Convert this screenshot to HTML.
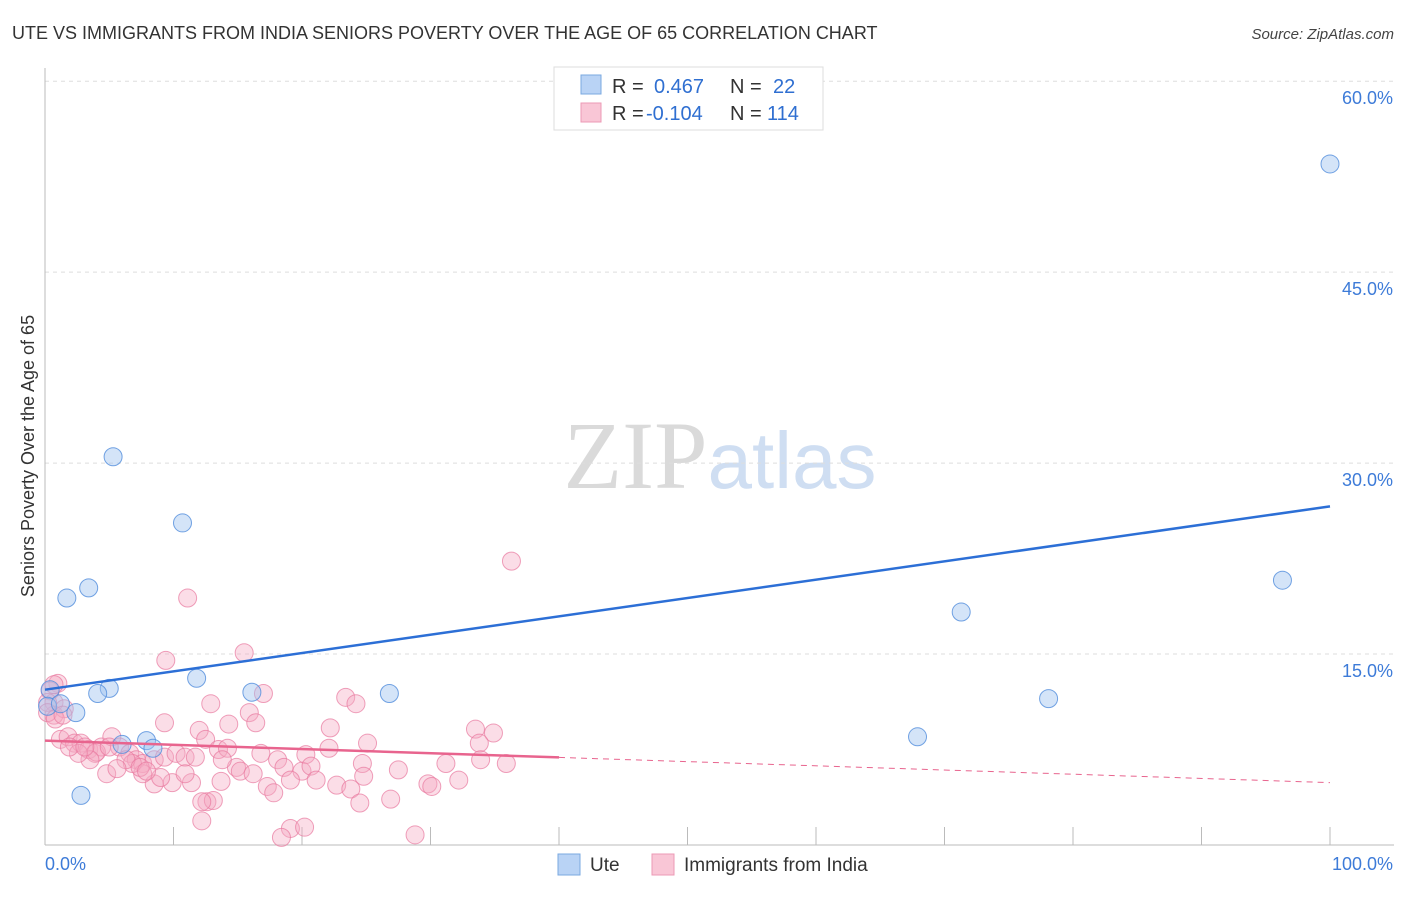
<!DOCTYPE html>
<html><head><meta charset="utf-8">
<style>
body{margin:0;background:#fff;font-family:"Liberation Sans",sans-serif;}
svg text{font-family:"Liberation Sans",sans-serif;}
</style></head>
<body>
<svg id="chart" width="1406" height="892" xmlns="http://www.w3.org/2000/svg">
<text x="12" y="39" font-size="18" fill="#333">UTE VS IMMIGRANTS FROM INDIA SENIORS POVERTY OVER THE AGE OF 65 CORRELATION CHART</text>
<text x="1394" y="39" font-size="15" fill="#444" text-anchor="end" font-style="italic">Source: ZipAtlas.com</text>
<text x="720" y="488" font-size="96" text-anchor="middle"><tspan fill="#dadada" font-family="Liberation Serif">ZIP</tspan><tspan fill="#cfdef2" font-size="80">atlas</tspan></text>
<text transform="translate(34,456) rotate(-90)" font-size="18" fill="#333" text-anchor="middle">Seniors Poverty Over the Age of 65</text>
<g id="grid"></g>
<g id="axes"></g>
<g id="points"></g>
<g id="lines"></g>
<g>
<rect x="554" y="67" width="269" height="63" fill="#fff" stroke="#ddd"/>
<rect x="581" y="75" width="20" height="19" fill="#b9d3f5" stroke="#7aa8e0"/>
<rect x="581" y="103" width="20" height="19" fill="#f9c6d6" stroke="#ec9ab5"/>
<text x="612" y="93" font-size="20" fill="#333">R =</text>
<text x="654" y="93" font-size="20" fill="#2f6fd1">0.467</text>
<text x="730" y="93" font-size="20" fill="#333">N =</text>
<text x="773" y="93" font-size="20" fill="#2f6fd1">22</text>
<text x="612" y="120" font-size="20" fill="#333">R =</text>
<text x="646" y="120" font-size="20" fill="#2f6fd1">-0.104</text>
<text x="730" y="120" font-size="20" fill="#333">N =</text>
<text x="767" y="120" font-size="20" fill="#2f6fd1">114</text>
</g>
<g>
<rect x="558" y="854" width="22" height="21" fill="#b9d3f5" stroke="#7aa8e0"/>
<text x="590" y="871" font-size="19" fill="#333">Ute</text>
<rect x="652" y="854" width="22" height="21" fill="#f9c6d6" stroke="#ec9ab5"/>
<text x="684" y="871" font-size="19" fill="#333">Immigrants from India</text>
</g>
</svg>
<script>
const yTicks=[15,30,45,60];
const yTickLabels=["15.0%","30.0%","45.0%","60.0%"];
const xTickLabels=["0.0%","100.0%"];
const uteX=[5.3,10.7,1.7,3.4,5.0,4.1,11.8,16.1,26.8,2.4,0.4,0.2,1.2,7.9,8.4,2.8,71.3,78.1,67.9,96.3,100,6.0];
const uteY=[30.5,25.3,19.4,20.2,12.3,11.9,13.1,12.0,11.9,10.4,12.2,10.9,11.1,8.2,7.6,3.9,18.3,11.5,8.5,20.8,53.5,7.9];
const indX=[36.3,11.1,15.5,9.4,1.0,0.4,0.7,0.7,1.5,17.0,12.9,23.4,24.2,15.9,16.4,9.3,14.3,22.2,33.5,34.9,33.8,12.0,12.5,25.1,22.1,13.5,14.2,1.2,1.8,2.3,2.8,3.4,3.9,4.4,5.2,5.8,6.6,7.1,7.6,8.5,9.3,10.2,10.9,11.7,16.8,18.1,20.3,31.2,33.9,35.9,24.7,14.9,15.2,13.8,16.2,18.6,20.0,20.7,27.5,24.8,21.1,19.1,17.3,17.8,22.7,23.8,29.8,30.1,32.2,26.9,24.5,13.7,11.4,9.9,8.5,9.0,10.9,7.6,6.8,6.3,4.8,5.6,4.0,3.5,2.6,1.9,12.6,13.1,12.2,12.2,19.1,20.2,18.4,28.8,3.1,5.0,7.4,7.9,0.7,0.2,0.2,0.8,1.4];
const indY=[22.3,19.4,15.1,14.5,12.7,12.1,11.2,10.2,10.7,11.9,11.1,11.6,11.1,10.4,9.6,9.6,9.5,9.2,9.1,8.8,8.0,9.0,8.3,8.0,7.6,7.5,7.6,8.3,8.5,8.0,8.0,7.5,7.2,7.7,8.5,7.7,7.2,6.7,6.4,6.7,6.9,7.2,6.9,6.9,7.2,6.7,7.1,6.4,6.7,6.4,6.4,6.1,5.8,6.7,5.6,6.1,5.8,6.2,5.9,5.4,5.1,5.1,4.6,4.1,4.7,4.4,4.8,4.6,5.1,3.6,3.3,5.0,4.9,4.9,4.8,5.3,5.6,5.6,6.4,6.7,5.6,6.0,7.3,6.7,7.2,7.7,3.4,3.5,3.4,1.9,1.3,1.4,0.6,0.8,7.7,7.7,6.1,5.8,12.6,11.2,10.4,9.9,10.2];
const uteTrend=[12.2,26.6];
const indTrend=[8.2,4.9];
const indSolidEnd=40;

const X=v=>45+v*12.85, Y=v=>845-v*12.73;
const NS="http://www.w3.org/2000/svg";
function mk(tag,attrs,parent){const e=document.createElementNS(NS,tag);for(const k in attrs)e.setAttribute(k,attrs[k]);parent.appendChild(e);return e;}
const grid=document.getElementById('grid'),axes=document.getElementById('axes'),pts=document.getElementById('points'),lines=document.getElementById('lines');
yTicks.forEach((t,i)=>{
 const l=mk('line',{x1:45,x2:1394,y1:Y(t),y2:Y(t),stroke:'#ddd','stroke-dasharray':'4,4'},grid);
 
 
 const tx=mk('text',{x:1393,y:Y(t)+23,'font-size':18,fill:'#3d7bd8','text-anchor':'end'},axes);
 tx.textContent=yTickLabels[i];
 
 
});
const ya=mk('line',{x1:45,x2:45,y1:68,y2:845,stroke:'#bbb'},axes);


const xa=mk('line',{x1:45,x2:1394,y1:845,y2:845,stroke:'#bbb'},axes);


for(let i=1;i<=10;i++){
 const t=mk('line',{x1:X(i*10),x2:X(i*10),y1:827,y2:845,stroke:'#bbb'},axes);
 
 
}
const xl0=mk('text',{x:45,y:870,'font-size':18,fill:'#3d7bd8'},axes);xl0.textContent=xTickLabels[0];


const xl1=mk('text',{x:1393,y:870,'font-size':18,fill:'#3d7bd8','text-anchor':'end'},axes);xl1.textContent=xTickLabels[1];


indX.forEach((v,i)=>{
 const c=mk('circle',{cx:X(v),cy:Y(indY[i]),r:9,fill:'rgba(246,170,195,0.4)',stroke:'rgba(232,120,158,0.7)','stroke-width':1},pts);
 
 
});
uteX.forEach((v,i)=>{
 const c=mk('circle',{cx:X(v),cy:Y(uteY[i]),r:9,fill:'rgba(160,196,240,0.45)',stroke:'rgba(80,140,220,0.8)','stroke-width':1},pts);
 
 
});
const ut=mk('line',{x1:X(0),y1:Y(uteTrend[0]),x2:X(100),y2:Y(uteTrend[1]),stroke:'#2c6fd6','stroke-width':2.5},lines);


const iv=x=>indTrend[0]+(indTrend[1]-indTrend[0])*x/100;
const it=mk('line',{x1:X(0),y1:Y(iv(0)),x2:X(indSolidEnd),y2:Y(iv(indSolidEnd)),stroke:'#e8648e','stroke-width':2.5},lines);


const id=mk('line',{x1:X(indSolidEnd),y1:Y(iv(indSolidEnd)),x2:X(100),y2:Y(iv(100)),stroke:'#e8648e','stroke-width':1,'stroke-dasharray':'6,5'},lines);


</script>
</body></html>
